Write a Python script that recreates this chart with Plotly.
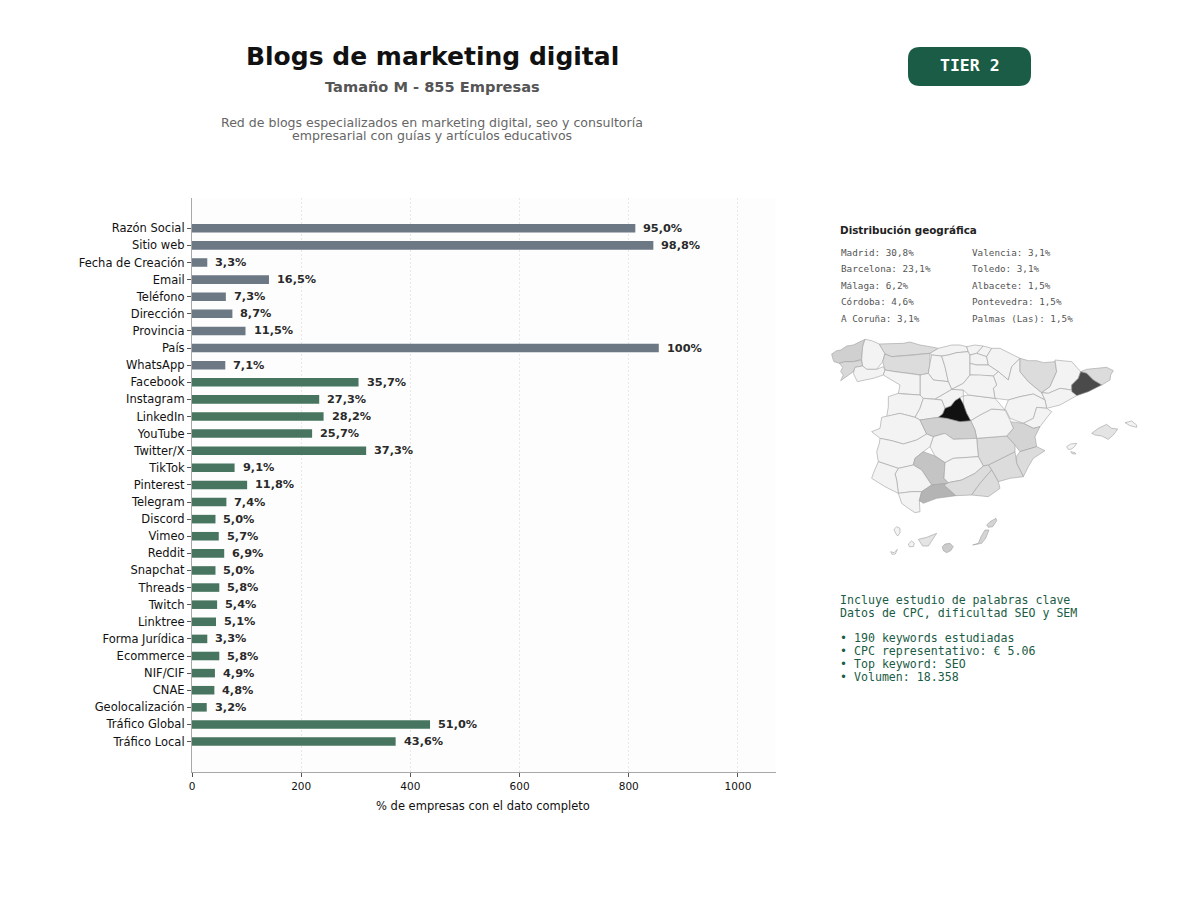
import plotly.graph_objects as go

# Bar data: companies with the field filled in, out of 855
campos = ['Razón Social', 'Sitio web', 'Fecha de Creación', 'Email', 'Teléfono', 'Dirección',
          'Provincia', 'País', 'WhatsApp', 'Facebook', 'Instagram', 'LinkedIn', 'YouTube',
          'Twitter/X', 'TikTok', 'Pinterest', 'Telegram', 'Discord', 'Vimeo', 'Reddit',
          'Snapchat', 'Threads', 'Twitch', 'Linktree', 'Forma Jurídica', 'Ecommerce',
          'NIF/CIF', 'CNAE', 'Geolocalización', 'Tráfico Global', 'Tráfico Local']
empresas = [812, 845, 28, 141, 62, 74, 98, 855, 61, 305, 233, 241, 220, 319, 78, 101, 63,
            43, 49, 59, 43, 50, 46, 44, 28, 50, 42, 41, 27, 436, 373]
porcentajes = ['95,0%', '98,8%', '3,3%', '16,5%', '7,3%', '8,7%', '11,5%', '100%', '7,1%',
               '35,7%', '27,3%', '28,2%', '25,7%', '37,3%', '9,1%', '11,8%', '7,4%', '5,0%',
               '5,7%', '6,9%', '5,0%', '5,8%', '5,4%', '5,1%', '3,3%', '5,8%', '4,9%', '4,8%',
               '3,2%', '51,0%', '43,6%']
grupo_basico = 9  # first nine fields are the grey ones

geo_col1 = ['Madrid: 30,8%', 'Barcelona: 23,1%', 'Málaga: 6,2%', 'Córdoba: 4,6%', 'A Coruña: 3,1%']
geo_col2 = ['Valencia: 3,1%', 'Toledo: 3,1%', 'Albacete: 1,5%', 'Pontevedra: 1,5%', 'Palmas (Las): 1,5%']

keywords = ['Incluye estudio de palabras clave', 'Datos de CPC, dificultad SEO y SEM', '',
            '• 190 keywords estudiadas', '• CPC representativo: € 5.06',
            '• Top keyword: SEO', '• Volumen: 18.358']

# Province outlines, hand traced (map axis units)
provincias = {
    'A Coruña': [(35,72),(50,62),(62,60),(80,48),(100,45),(118,35),(135,28),(128,50),(125,88),(100,95),(75,95),(58,100),(42,95),(38,85)],
    'Pontevedra': [(58,100),(75,95),(100,95),(125,90),(128,108),(105,112),(100,125),(80,140),(62,152),(70,135),(62,125),(68,112)],
    'Lugo': [(135,28),(155,32),(178,42),(190,60),(195,70),(188,95),(170,118),(140,118),(128,108),(125,88),(128,50)],
    'Ourense': [(105,112),(128,108),(140,118),(170,118),(190,110),(195,120),(190,135),(160,145),(135,150),(112,155),(100,130)],
    'Asturias': [(178,42),(205,42),(230,42),(250,40),(270,36),(300,45),(330,50),(355,55),(330,70),(270,76),(215,80),(195,72)],
    'León': [(195,72),(215,80),(270,76),(330,70),(330,100),(325,130),(300,135),(270,130),(225,125),(195,120),(188,95)],
    'Cantabria': [(355,55),(375,50),(395,45),(420,45),(440,50),(445,65),(410,68),(385,75),(365,78),(335,75),(330,70)],
    'Palencia': [(335,75),(365,78),(375,110),(385,155),(340,150),(325,130),(330,100)],
    'Burgos': [(365,78),(385,75),(410,68),(445,65),(450,75),(450,100),(450,135),(430,160),(395,178),(385,155),(375,110)],
    'Bizkaia': [(440,50),(465,45),(490,48),(470,70),(450,75),(445,65)],
    'Gipuzkoa': [(490,48),(515,55),(500,80),(470,70)],
    'Araba': [(450,75),(470,70),(500,80),(505,105),(470,105),(450,100)],
    'Navarra': [(515,55),(540,55),(570,70),(600,85),(575,110),(565,150),(535,125),(505,105),(500,80)],
    'La Rioja': [(450,100),(470,105),(505,105),(535,125),(520,138),(480,135),(450,135)],
    'Zaragoza': [(565,150),(575,110),(600,85),(600,125),(625,155),(665,188),(675,210),(640,192),(600,200),(565,210),(525,205),(520,175),(530,165),(520,138),(535,125)],
    'Huesca': [(600,85),(625,92),(650,92),(670,98),(705,95),(710,125),(690,170),(665,188),(625,155),(600,125)],
    'Lleida': [(705,90),(735,92),(755,95),(782,125),(775,145),(755,165),(755,180),(720,175),(685,190),(665,188),(690,170),(710,125)],
    'Girona': [(782,125),(800,118),(830,115),(860,112),(880,122),(872,135),(870,150),(845,165),(820,150),(800,130)],
    'Barcelona': [(782,125),(800,130),(820,150),(845,165),(805,185),(770,197),(755,185),(755,165),(775,145)],
    'Tarragona': [(755,180),(755,185),(770,197),(720,225),(680,235),(675,210),(665,188),(685,190),(720,175)],
    'Teruel': [(565,210),(600,200),(640,192),(675,210),(680,235),(650,232),(640,265),(610,280),(570,265),(555,235)],
    'Castellón': [(680,235),(695,245),(675,270),(660,290),(640,295),(610,280),(640,265),(650,232)],
    'Valencia': [(570,275),(610,280),(640,295),(660,290),(645,320),(650,350),(600,365),(585,345),(560,318),(580,295)],
    'Alicante': [(600,365),(650,350),(675,362),(640,385),(625,410),(610,440),(590,400),(590,378)],
    'Murcia': [(505,405),(545,385),(585,365),(590,400),(610,440),(570,445),(535,455),(515,420)],
    'Albacete': [(470,325),(560,318),(585,345),(585,365),(545,385),(505,405),(490,408),(475,380)],
    'Cuenca': [(452,272),(480,255),(515,237),(555,240),(570,270),(580,295),(560,318),(470,325),(465,300)],
    'Guadalajara': [(430,198),(445,195),(525,205),(555,240),(515,237),(480,255),(452,272),(440,250),(430,222)],
    'Segovia': [(345,207),(395,178),(430,180),(430,198),(420,203),(405,212),(393,228),(375,235),(365,210)],
    'Soria': [(395,178),(430,160),(450,135),(480,135),(520,138),(530,165),(520,175),(525,205),(445,195),(430,180)],
    'Valladolid': [(300,135),(325,130),(340,150),(385,155),(395,178),(345,207),(310,205),(300,195),(300,170)],
    'Zamora': [(190,135),(195,120),(225,125),(270,130),(300,135),(300,195),(250,192),(235,190),(240,165)],
    'Salamanca': [(205,200),(235,190),(250,192),(300,195),(310,205),(300,235),(285,262),(240,250),(200,260),(205,230)],
    'Ávila': [(310,205),(345,207),(365,210),(375,235),(368,252),(355,262),(300,270),(285,262),(300,235)],
    'Cáceres': [(185,262),(240,250),(285,262),(300,270),(320,312),(290,330),(250,342),(215,332),(180,325),(155,305),(180,295)],
    'Toledo': [(300,270),(355,262),(380,265),(420,275),(452,272),(465,300),(470,325),(400,328),(375,310),(340,320),(320,312)],
    'Madrid': [(355,262),(368,252),(375,235),(393,228),(405,212),(420,203),(430,222),(440,250),(452,272),(420,275),(380,265)],
    'Ciudad Real': [(340,320),(375,310),(400,328),(470,325),(475,380),(400,385),(375,398),(345,378),(330,350)],
    'Badajoz': [(178,340),(180,325),(215,332),(250,342),(290,330),(320,312),(340,320),(330,350),(310,365),(285,385),(280,405),(235,415),(175,395),(170,365)],
    'Córdoba': [(285,385),(310,365),(345,378),(375,398),(372,445),(385,460),(335,465),(305,420),(280,405)],
    'Jaén': [(375,398),(400,385),(475,380),(490,408),(465,430),(425,450),(385,458),(372,445)],
    'Sevilla': [(225,432),(235,415),(280,405),(305,420),(335,465),(305,485),(275,485),(235,490),(230,450)],
    'Huelva': [(160,430),(175,395),(235,415),(225,432),(230,450),(235,490),(195,470),(155,445)],
    'Cádiz': [(235,490),(275,485),(305,485),(298,512),(300,545),(285,548),(265,535),(245,520)],
    'Málaga': [(305,485),(335,465),(385,460),(408,497),(350,505),(310,520),(298,512)],
    'Granada': [(372,465),(385,458),(425,450),(465,430),(490,408),(505,405),(515,420),(480,460),(455,495),(408,497)],
    'Almería': [(455,495),(480,460),(515,420),(535,455),(540,475),(505,500)],
    'Mallorca': [(815,310),(835,295),(860,283),(875,295),(893,297),(880,315),(865,328),(845,318),(825,315)],
    'Menorca': [(915,278),(935,273),(950,285),(950,292),(930,287)],
    'Ibiza': [(740,350),(752,342),(770,340),(762,352),(752,358),(745,358)],
    'Formentera': [(752,365),(765,368),(768,372),(756,371)],
    'Tenerife': [(295,628),(320,622),(350,610),(338,630),(325,648),(308,648)],
    'Gran Canaria': [(367,650),(375,642),(390,640),(400,650),(392,662),(380,668),(370,662)],
    'Fuerteventura': [(458,645),(475,640),(483,620),(495,600),(507,600),(497,625),(485,640)],
    'Lanzarote': [(500,585),(510,575),(528,565),(530,572),(518,590),(505,592)],
    'La Gomera': [(265,642),(275,633),(283,640),(280,650),(268,650)],
    'La Palma': [(222,598),(230,590),(240,595),(240,608),(233,618),(227,610)],
    'El Hierro': [(212,665),(222,668),(232,658),(226,672),(216,673)],
}

# Grey of every province that is not the default light one
grises = {
    'Madrid': '#111111', 'Barcelona': '#4a4a4a', 'Málaga': '#b4b4b4', 'Córdoba': '#c4c4c4',
    'A Coruña': '#d0d0d0', 'Valencia': '#d4d4d4', 'Toledo': '#d0d0d0', 'Albacete': '#dcdcdc',
    'Pontevedra': '#d8d8d8', 'Asturias': '#dcdcdc', 'León': '#dcdcdc', 'Huesca': '#dcdcdc',
    'Girona': '#dcdcdc', 'Murcia': '#dcdcdc', 'Alicante': '#dcdcdc', 'Almería': '#dcdcdc',
    'Granada': '#dcdcdc', 'Mallorca': '#e4e4e4', 'Gran Canaria': '#cccccc', 'Fuerteventura': '#d4d4d4',
    'Lanzarote': '#d4d4d4', 'Tenerife': '#e4e4e4',
}

VERDE = '#1a5c45'
PAD = 8  # browser body margin
W, H = 1200 - PAD, 900 - PAD


def fx(p):
    return (p - PAD) / W


def fy(p):
    return 1 - (p - PAD) / H


fig = go.Figure()

fig.add_trace(go.Bar(
    x=empresas,
    y=campos,
    orientation='h',
    width=0.5,
    marker_color=['#6c7985' if i < grupo_basico else '#47755f' for i in range(len(campos))],
    marker_line_width=0,
    hoverinfo='skip',
))

# Map drawn on its own hidden axes
for nombre, puntos in provincias.items():
    fig.add_trace(go.Scatter(
        x=[p[0] for p in puntos] + [puntos[0][0]],
        y=[p[1] for p in puntos] + [puntos[0][1]],
        mode='lines',
        fill='toself',
        fillcolor=grises.get(nombre, '#f3f3f3'),
        line=dict(color='#a0a0a0', width=0.6),
        name=nombre,
        xaxis='x2',
        yaxis='y2',
        hoverinfo='name',
    ))

annotations = []
for campo, valor, etiqueta in zip(campos, empresas, porcentajes):
    annotations.append(dict(x=valor, y=campo, text=etiqueta, xref='x', yref='y', xanchor='left',
                            xshift=7, borderpad=0, showarrow=False,
                            font=dict(family='DejaVu Sans', size=11.3, color='#2a2a2a', weight='bold')))


def texto(x, y, s, size, color, anchor='left', family='DejaVu Sans', bold=False):
    annotations.append(dict(x=fx(x), y=fy(y), text=s, xref='paper', yref='paper', xanchor=anchor,
                            yanchor='middle', showarrow=False, align=anchor, borderpad=0,
                            font=dict(family=family, size=size, color=color,
                                      weight='bold' if bold else 'normal')))


texto(432, 56, 'Blogs de marketing digital', 25, '#111111', 'center', bold=True)
texto(432, 87, 'Tamaño M - 855 Empresas', 14.6, '#555555', 'center', bold=True)
texto(432, 122, 'Red de blogs especializados en marketing digital, seo y consultoría', 12.55, '#666666', 'center')
texto(432, 136, 'empresarial con guías y artículos educativos', 12.55, '#666666', 'center')
texto(970, 66, 'TIER 2', 16.5, '#ffffff', 'center', 'DejaVu Sans Mono', True)
texto(839, 230, 'Distribución geográfica', 10.4, '#222222', bold=True)
filas = [252, 268.5, 285, 301, 318]
for fila, a, b in zip(filas, geo_col1, geo_col2):
    texto(839.5, fila, a, 9.3, '#555555', family='DejaVu Sans Mono')
    texto(971, fila, b, 9.3, '#555555', family='DejaVu Sans Mono')
filas_kw = [600, 613, 626, 638, 651, 664, 677]
for fila, linea in zip(filas_kw, keywords):
    if linea:
        texto(839, fila, linea, 11.6, VERDE, family='DejaVu Sans Mono')
texto(483, 806, '% de empresas con el dato completo', 11.5, '#111111', 'center')

# Rounded badge, in paper units
x0, x1, y0, y1, r = fx(908), fx(1031), fy(47), fy(86), 12
rx, ry = r / W, r / H
badge = (f'M {x0 + rx} {y0} L {x1 - rx} {y0} Q {x1} {y0} {x1} {y0 - ry} L {x1} {y1 + ry} '
         f'Q {x1} {y1} {x1 - rx} {y1} L {x0 + rx} {y1} Q {x0} {y1} {x0} {y1 + ry} '
         f'L {x0} {y0 - ry} Q {x0} {y0} {x0 + rx} {y0} Z')

fig.update_layout(
    width=W,
    height=H,
    margin=dict(l=0, r=0, t=0, b=0),
    paper_bgcolor='white',
    plot_bgcolor='white',
    showlegend=False,
    annotations=annotations,
    shapes=[
        dict(type='rect', xref='x domain', yref='y domain', x0=0, x1=1, y0=0, y1=1,
             fillcolor='#fdfdfd', line_width=0, layer='below'),
        dict(type='path', path=badge, xref='paper', yref='paper', fillcolor=VERDE, line_width=0),
    ],
    font=dict(family='DejaVu Sans', color='#111111'),
    xaxis=dict(
        domain=[fx(192), fx(775.5)],
        range=[0, 1068.75],
        tickvals=[0, 200, 400, 600, 800, 1000],
        ticks='outside',
        ticklen=4,
        tickcolor='#555555',
        tickfont=dict(size=10.5),
        showline=True,
        linecolor='#a8a8a8',
        linewidth=1.2,
        showgrid=True,
        gridcolor='rgba(170,170,170,0.25)',
        griddash='2px,2px',
        gridwidth=0.8,
        zeroline=False,
        layer='above traces',
        automargin=False,
    ),
    yaxis=dict(
        domain=[fy(772), fy(198)],
        range=[len(campos) - 1 + 1.78, -1.77],
        type='category',
        tickmode='array',
        tickvals=campos,
        ticktext=campos,
        ticks='outside',
        ticklen=4,
        tickcolor='#555555',
        tickfont=dict(size=11.5),
        showline=True,
        linecolor='#a8a8a8',
        linewidth=1.2,
        showgrid=False,
        zeroline=False,
        automargin=False,
    ),
    # map axis units are reference pixels times three, from (820, 330)
    xaxis2=dict(domain=[fx(820), fx(1150)], range=[0, 990], visible=False, anchor='y2'),
    yaxis2=dict(domain=[fy(570), fy(330)], range=[720, 0], visible=False, anchor='x2'),
)

fig.write_html('out.html')
